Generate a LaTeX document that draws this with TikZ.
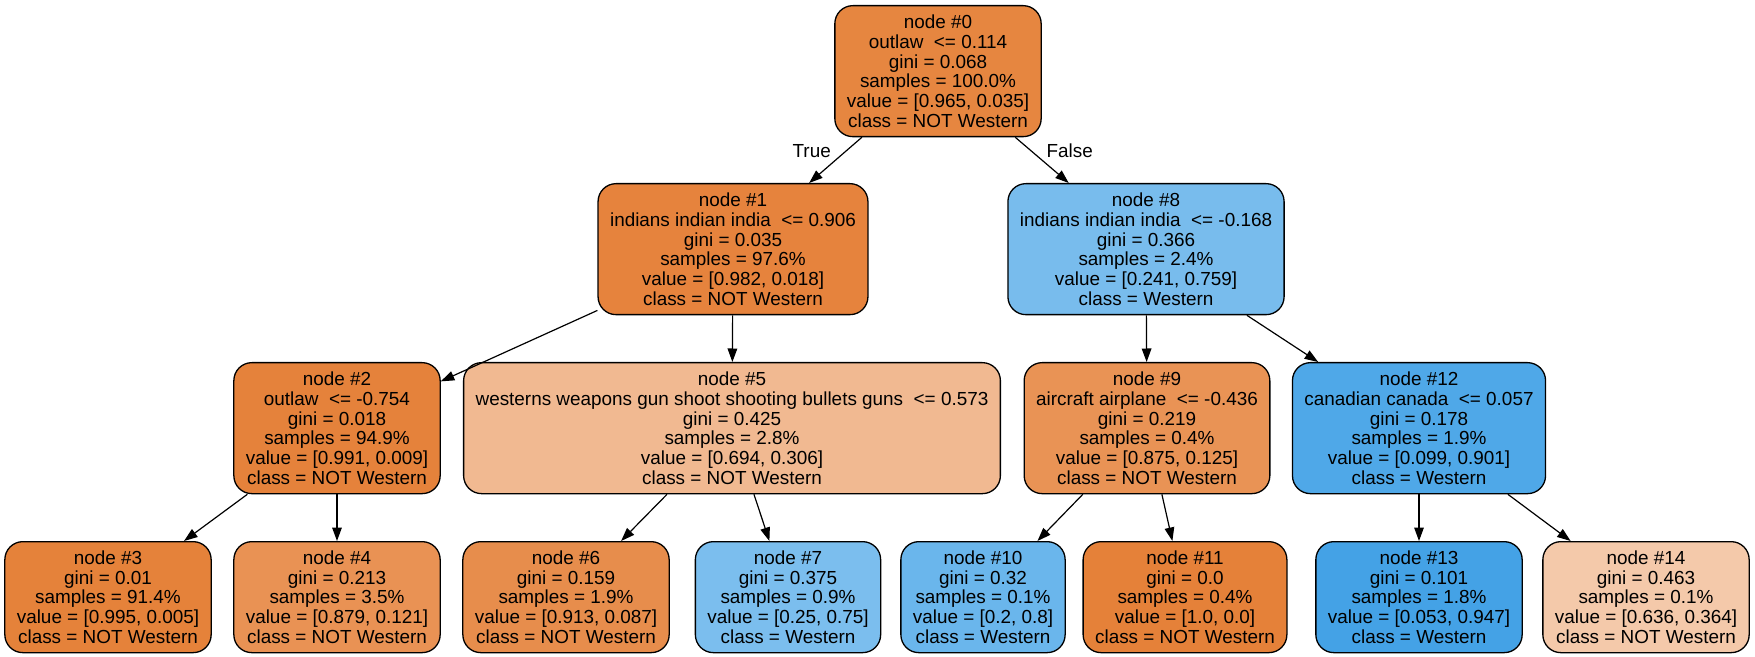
\documentclass[tikz,border=0pt]{standalone}
\usepackage{fontspec}
\setmainfont{Liberation Sans}
\usetikzlibrary{arrows.meta}
\definecolor{col0}{HTML}{E68640}
\definecolor{col1}{HTML}{E6833D}
\definecolor{col2}{HTML}{E5823B}
\definecolor{col3}{HTML}{E5823A}
\definecolor{col4}{HTML}{E99254}
\definecolor{col5}{HTML}{F1B991}
\definecolor{col6}{HTML}{E78D4C}
\definecolor{col7}{HTML}{7BBEEE}
\definecolor{col8}{HTML}{78BCED}
\definecolor{col9}{HTML}{E99355}
\definecolor{col10}{HTML}{6AB6EC}
\definecolor{col11}{HTML}{E58139}
\definecolor{col12}{HTML}{4FA8E8}
\definecolor{col13}{HTML}{44A2E6}
\definecolor{col14}{HTML}{F4C9AA}
\tikzset{
    > = {Triangle[length=6.75pt, width=4.8pt]},
    every edge/.style = {draw, ->, line width=0.6pt},
    split/.style = {draw, line width=0.65pt, rounded corners=9pt, align=center,
        anchor=north, inner xsep=6pt, inner ysep=1pt, minimum height=65.5pt},
    leaf/.style = {split, minimum height=55.5pt}
}

\begin{document}
\begin{tikzpicture}[x=0.5pt, y=-0.5pt, font=\fontsize{9.45}{9.9}\selectfont]
    \useasboundingbox (0, 0) rectangle (1755, 657);

    % splits
    \node[split, fill=col0] (0) at (938, 5) {node \#0\\outlaw\ \ <= 0.114\\gini = 0.068\\samples = 100.0\%\\value = [0.965, 0.035]\\class = NOT Western};
    \node[split, fill=col1] (1) at (733, 183) {node \#1\\indians indian india\ \ <= 0.906\\gini = 0.035\\samples = 97.6\%\\value = [0.982, 0.018]\\class = NOT Western};
    \node[split, fill=col8] (8) at (1146, 183) {node \#8\\indians indian india\ \ <= -0.168\\gini = 0.366\\samples = 2.4\%\\value = [0.241, 0.759]\\class = Western};
    \node[split, fill=col2] (2) at (337, 362) {node \#2\\outlaw\ \ <= -0.754\\gini = 0.018\\samples = 94.9\%\\value = [0.991, 0.009]\\class = NOT Western};
    \node[split, fill=col5] (5) at (732, 362) {node \#5\\westerns weapons gun shoot shooting bullets guns\ \ <= 0.573\\gini = 0.425\\samples = 2.8\%\\value = [0.694, 0.306]\\class = NOT Western};
    \node[split, fill=col9] (9) at (1147, 362) {node \#9\\aircraft airplane\ \ <= -0.436\\gini = 0.219\\samples = 0.4\%\\value = [0.875, 0.125]\\class = NOT Western};
    \node[split, fill=col12] (12) at (1419, 362) {node \#12\\canadian canada\ \ <= 0.057\\gini = 0.178\\samples = 1.9\%\\value = [0.099, 0.901]\\class = Western};

    % leaves
    \node[leaf, fill=col3] (3) at (108, 541) {node \#3\\gini = 0.01\\samples = 91.4\%\\value = [0.995, 0.005]\\class = NOT Western};
    \node[leaf, fill=col4] (4) at (337, 541) {node \#4\\gini = 0.213\\samples = 3.5\%\\value = [0.879, 0.121]\\class = NOT Western};
    \node[leaf, fill=col6] (6) at (566, 541) {node \#6\\gini = 0.159\\samples = 1.9\%\\value = [0.913, 0.087]\\class = NOT Western};
    \node[leaf, fill=col7] (7) at (788, 541) {node \#7\\gini = 0.375\\samples = 0.9\%\\value = [0.25, 0.75]\\class = Western};
    \node[leaf, fill=col10] (10) at (983, 541) {node \#10\\gini = 0.32\\samples = 0.1\%\\value = [0.2, 0.8]\\class = Western};
    \node[leaf, fill=col11] (11) at (1185, 541) {node \#11\\gini = 0.0\\samples = 0.4\%\\value = [1.0, 0.0]\\class = NOT Western};
    \node[leaf, fill=col13] (13) at (1419, 541) {node \#13\\gini = 0.101\\samples = 1.8\%\\value = [0.053, 0.947]\\class = Western};
    \node[leaf, fill=col14] (14) at (1646, 541) {node \#14\\gini = 0.463\\samples = 0.1\%\\value = [0.636, 0.364]\\class = NOT Western};

    \draw (0) edge node[pos=0.3, left=4pt]{True} (1);
    \draw (0) edge node[pos=0.3, right=4pt]{False} (8);
    \draw (1) edge (2);
    \draw (1) edge (5);
    \draw (2) edge (3);
    \draw (2) edge (4);
    \draw (5) edge (6);
    \draw (5) edge (7);
    \draw (8) edge (9);
    \draw (8) edge (12);
    \draw (9) edge (10);
    \draw (9) edge (11);
    \draw (12) edge (13);
    \draw (12) edge (14);
\end{tikzpicture}
\end{document}
